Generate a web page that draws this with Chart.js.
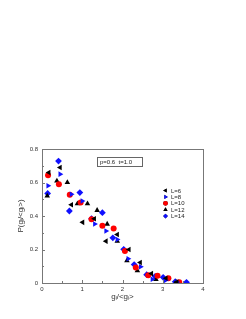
<!DOCTYPE html>
<html>
<head>
<meta charset="utf-8">
<script src="https://cdn.jsdelivr.net/npm/chart.js@4/dist/chart.umd.min.js"></script>
<style>
  html, body { margin: 0; padding: 0; background: #fff; }
  #c { display: block; }
</style>
</head>
<body>
<canvas id="c" width="246" height="319"></canvas>
<script>
// data
var seriesNames = ["L=6", "L=8", "L=10", "L=12", "L=14"];
var L6 = [[0.17,0.66],[0.45,0.69],[0.73,0.467],[1.01,0.362],[1.3,0.384],[1.59,0.25],[1.87,0.29],[2.16,0.20],[2.44,0.123],[2.72,0.056],[3.08,0.028],[3.35,0.006]];
var L8 = [[0.15,0.58],[0.45,0.65],[0.73,0.53],[1.0,0.49],[1.31,0.352],[1.59,0.31],[1.87,0.26],[2.14,0.145],[2.45,0.097],[2.74,0.022],[3.07,0.016],[3.35,0.006]];
var L10 = [[0.15,0.643],[0.42,0.59],[0.69,0.527],[0.96,0.48],[1.23,0.38],[1.5,0.342],[1.78,0.326],[2.06,0.191],[2.33,0.093],[2.64,0.046],[2.87,0.044],[3.14,0.028],[3.41,0.004]];
var L12 = [[0.13,0.52],[0.37,0.61],[0.63,0.60],[0.88,0.473],[1.13,0.473],[1.37,0.434],[1.62,0.352],[1.87,0.25],[2.11,0.133],[2.37,0.073],[2.83,0.022],[3.33,0.005]];
var L14 = [[0.14,0.535],[0.41,0.728],[0.68,0.43],[0.94,0.54],[1.23,0.384],[1.5,0.42],[1.76,0.27],[2.03,0.201],[2.29,0.11],[2.60,0.05],[2.81,0.04],[3.01,0.034],[3.31,0.008],[3.59,0.004]];
var xTicks = [0, 1, 2, 3, 4];
var yTicks = [0, 0.2, 0.4, 0.6, 0.8];
var noteText = "p=0.6  t=1.0";

var colors = ["#000000", "#1010ff", "#ff0000", "#000000", "#1010ff"];
var styles = ["triangle", "triangle", "circle", "triangle", "rectRot"];
var rots = [-90, 90, 0, 0, 0];
var radii = [3.2, 3.2, 3, 3.2, 3.4];
var all = [L6, L8, L10, L12, L14];

function toXY(a) { return a.map(function (p) { return { x: p[0], y: p[1] }; }); }

var datasets = all.map(function (d, i) {
  return {
    label: seriesNames[i],
    data: toXY(d),
    backgroundColor: colors[i],
    borderColor: colors[i],
    borderWidth: 0,
    pointStyle: styles[i],
    rotation: rots[i],
    pointRadius: radii[i]
  };
});

// inner tick marks, note box and legend
var extras = {
  id: "extras",
  afterDraw: function (chart) {
    var ctx = chart.ctx, a = chart.chartArea;
    var xs = chart.scales.x, ys = chart.scales.y;
    ctx.save();
    ctx.strokeStyle = "#777";
    ctx.lineWidth = 1;
    ctx.beginPath();
    for (var v = 0.5; v < 4; v += 0.5) {
      var px = Math.round(xs.getPixelForValue(v)) + 0.5;
      ctx.moveTo(px, a.bottom); ctx.lineTo(px, a.bottom - (v % 1 === 0 ? 3 : 2));
    }
    for (var k = 1; k < 8; k++) {
      var py = Math.round(ys.getPixelForValue(k / 10)) + 0.5;
      ctx.moveTo(a.left, py); ctx.lineTo(a.left + (k % 2 === 0 ? 3 : 2), py);
    }
    ctx.stroke();

    // note box
    ctx.strokeStyle = "#666";
    ctx.strokeRect(97.5, 157.5, 45, 9);
    ctx.fillStyle = "#222";
    ctx.font = "6px 'Liberation Sans', Arial, sans-serif";
    ctx.textBaseline = "middle";
    ctx.textAlign = "left";
    ctx.fillText(noteText, 100, 162.5);

    // legend
    for (var i = 0; i < seriesNames.length; i++) {
      var y = 190.5 + i * 6.4;
      Chart.helpers.drawPoint(ctx, {
        pointStyle: styles[i], rotation: rots[i], radius: 2.4, borderWidth: 0
      }, 165.5, y);
      ctx.fillStyle = colors[i];
      ctx.fill();
      ctx.fillStyle = "#222";
      ctx.fillText(seriesNames[i], 171, y + 0.5);
    }
    ctx.restore();
  }
};

new Chart(document.getElementById("c"), {
  type: "scatter",
  data: { datasets: datasets },
  options: {
    responsive: false,
    animation: false,
    devicePixelRatio: 1,
    layout: { padding: { left: 16, top: 149, right: 43, bottom: 17 } },
    plugins: { legend: { display: false }, tooltip: { enabled: false } },
    scales: {
      x: {
        type: "linear", min: 0, max: 4,
        afterBuildTicks: function (s) { s.ticks = xTicks.map(function (v) { return { value: v }; }); },
        afterFit: function (s) { s.height = 19; },
        border: { display: true, color: "#777" },
        grid: { display: false, drawTicks: false, tickLength: 0 },
        ticks: { color: "#333", padding: 3, font: { size: 6, family: "'Liberation Sans', Arial" } },
        title: { display: true, text: "gₗ/<gₗ>", color: "#333", padding: { top: 2, bottom: 0 },
                 font: { size: 8, family: "'Liberation Sans', Arial" } }
      },
      y: {
        type: "linear", min: 0, max: 0.8,
        afterBuildTicks: function (s) { s.ticks = yTicks.map(function (v) { return { value: v }; }); },
        afterFit: function (s) { s.width = 26; },
        border: { display: true, color: "#777" },
        grid: { display: false, drawTicks: false, tickLength: 0 },
        ticks: { color: "#333", padding: 4, font: { size: 6, family: "'Liberation Sans', Arial" },
                 callback: function (v) { return v === 0 ? "0" : v.toFixed(1); } },
        title: { display: true, text: "P(gₗ/<gₗ>)", color: "#333", padding: { top: 0, bottom: 0 },
                 font: { size: 8, family: "'Liberation Sans', Arial" } }
      }
    }
  },
  plugins: [extras, {
    id: "frame",
    afterDatasetsDraw: function (chart) {
      var a = chart.chartArea, ctx = chart.ctx;
      ctx.save();
      ctx.strokeStyle = "#777";
      ctx.lineWidth = 1;
      ctx.strokeRect(Math.round(a.left) + 0.5, Math.round(a.top) + 0.5, Math.round(a.right - a.left), Math.round(a.bottom - a.top));
      ctx.restore();
    }
  }]
});
</script>
</body>
</html>
